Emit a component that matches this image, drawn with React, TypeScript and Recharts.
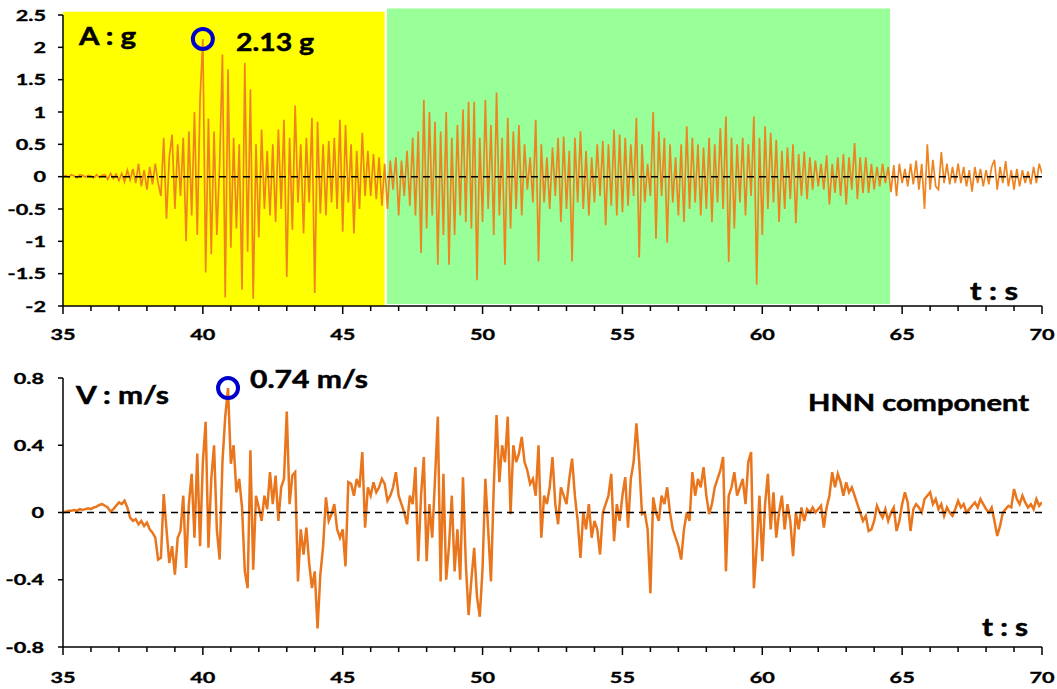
import { LineChart, Line, XAxis, YAxis, ReferenceArea, ReferenceLine, ReferenceDot } from 'recharts'

// sampling grid: 35 s .. 70 s every 0.1 s
const T_START = 35
const T_STEP = 0.1

// acceleration (g), HNN component
const ACC_35_40 = [
  0, 0.02, -0.01, 0.03, 0.01, -0.02, 0.03, 0.02, -0.01, 0.02,
  0.01, -0.02, 0.03, -0.01, 0.02, 0.03, -0.04, 0.05, -0.03, 0.04,
  -0.06, 0.05, -0.08, 0.1, -0.05, 0.12, -0.1, 0.2, -0.15, 0.1,
  -0.2, 0.15, -0.12, 0.2, -0.1, -0.3, 0.6, -0.65, 0.3, 0.65,
  -0.5, 0.5, -0.3, 0.6, -1.0, 0.7, -0.6, 1.0, -0.9, 1.2,
]
const ACC_40_45 = [
  2.13, -1.48, 0.9, -1.2, 0.7, -0.9, 0.2, 1.89, -1.87, 1.66,
  -1.1, 0.6, -0.8, 0.5, -1.75, 1.76, -1.16, 1.35, -1.89, 0.5,
  -0.94, 0.73, -0.5, 0.4, -0.6, 0.5, -0.7, 0.73, -0.5, 0.88,
  -1.55, 0.6, -0.82, 1.1, -0.4, 0.5, -0.88, 0.6, -0.4, 0.91,
  -1.8, 0.85, -0.57, 0.5, -0.6, 0.55, -0.4, 0.6, -0.5, 0.88,
]
const ACC_45_50 = [
  -0.85, 0.8, -0.4, 0.5, -0.88, 0.4, -0.5, 0.68, -0.3, 0.4,
  -0.3, 0.35, -0.35, 0.3, -0.45, 0.2, -0.5, 0.25, -0.2, 0.3,
  -0.6, 0.25, -0.3, 0.4, -0.45, 0.6, -0.6, 0.7, -1.18, 1.19,
  -0.8, 1.0, -0.6, 0.85, -1.36, 0.7, -0.9, 1.0, -1.36, 0.6,
  -0.9, 0.8, -0.6, 1.04, -0.7, 1.16, -0.8, 1.16, -1.6, 0.6,
]
const ACC_50_55 = [
  -0.7, 1.19, -0.5, 0.8, -0.9, 1.3, -0.6, 0.6, -1.36, 0.91,
  -0.8, 0.7, -0.5, 0.8, -0.6, 0.5, -0.2, 0.3, -0.4, 0.88,
  -1.31, 0.5, -0.4, 0.3, -0.5, 0.45, -0.3, 0.6, -0.7, 0.62,
  -0.5, 0.4, -1.31, 0.6, -0.4, 0.7, -0.5, 0.4, -0.6, 0.3,
  -0.4, 0.5, -0.3, 0.55, -0.75, 0.5, -0.45, 0.73, -0.6, 0.65,
]
const ACC_55_60 = [
  -0.55, 0.6, -0.45, 0.5, -0.3, 0.91, -1.25, 0.5, -0.4, 0.2,
  -0.3, 1.0, -0.96, 0.7, -0.3, 0.6, -1.02, 0.5, -0.4, 0.3,
  -0.6, 0.5, -0.7, 0.78, -0.5, 0.6, -0.4, 0.5, -0.6, 0.45,
  -0.5, 0.6, -0.7, 0.5, -0.4, 0.75, -0.5, 0.93, -1.32, 0.6,
  -0.8, 0.5, -0.4, 0.6, -0.6, 0.5, -0.3, 0.93, -1.67, 0.6,
]
const ACC_60_65 = [
  -0.9, 0.78, -0.5, 0.68, -0.4, 0.57, -0.7, 0.4, -0.5, 0.45,
  -0.35, 0.5, -0.72, 0.35, -0.3, 0.39, -0.35, 0.3, -0.2, 0.25,
  -0.15, 0.2, -0.2, 0.33, -0.43, 0.2, -0.25, 0.3, -0.3, 0.35,
  -0.43, 0.3, -0.2, 0.52, -0.35, 0.3, -0.25, 0.3, -0.25, 0.2,
  -0.2, 0.15, -0.15, 0.2, -0.1, 0.15, -0.24, 0.18, -0.3, 0.2,
]
const ACC_65_70 = [
  -0.1, 0.12, -0.15, 0.2, -0.12, 0.25, -0.2, 0.2, -0.5, 0.5,
  -0.2, 0.26, -0.15, -0.2, 0.38, -0.1, 0.2, -0.12, 0.15, -0.1,
  0.2, -0.1, 0.15, -0.15, 0.1, -0.23, 0.15, -0.1, 0.12, -0.15,
  0.1, -0.12, 0.15, 0.26, -0.2, 0.15, -0.1, 0.24, -0.15, 0.1,
  -0.2, 0.12, -0.15, 0.1, -0.1, 0.08, -0.12, 0.15, -0.1, 0.2,
  0.05,
]

// velocity (m/s)
const VEL_35_40 = [
  0, 0.005, 0.01, 0.01, 0.015, 0.01, 0.02, 0.015, 0.02, 0.025,
  0.02, 0.03, 0.035, 0.045, 0.05, 0.04, 0.03, 0.005, 0.02, 0.04,
  0.06, 0.05, 0.07, 0.03, -0.03, -0.05, -0.04, -0.07, -0.05, -0.08,
  -0.06, -0.1, -0.12, -0.15, -0.28, -0.27, 0.11, -0.1, -0.3, -0.2,
  -0.37, -0.15, -0.11, 0.1, -0.33, 0.05, 0.23, -0.15, 0.35, -0.2,
]
const VEL_40_45 = [
  0.3, 0.54, -0.21, 0.2, 0.4, -0.1, -0.28, 0.3, 0.57, 0.74,
  0.29, 0.4, 0.12, 0.2, 0.03, -0.35, -0.45, 0.37, -0.34, 0.1,
  0.03, -0.05, 0.1, 0.02, 0.24, 0.05, 0.22, -0.05, 0.15, 0.2,
  0.6, 0.05, 0.22, 0.24, -0.41, -0.1, -0.25, -0.09, -0.3, -0.45,
  -0.35, -0.69, -0.37, -0.2, 0.09, -0.05, -0.01, 0.05, -0.1, -0.15,
]
const VEL_45_50 = [
  -0.1, -0.32, 0.18, 0.17, 0.1, 0.2, 0.15, 0.36, -0.09, 0.15,
  0.1, 0.18, 0.12, 0.15, 0.2, 0.17, 0.07, 0.1, 0.15, 0.24,
  0.1, 0.05, 0.0, -0.07, 0.1, 0.05, 0.27, -0.29, 0.1, 0.33,
  -0.29, 0.05, -0.15, 0.2, 0.57, -0.41, 0.23, -0.4, -0.2, 0.1,
  -0.35, -0.1, -0.4, 0.21, -0.3, -0.61, -0.4, -0.21, -0.5, -0.62,
]
const VEL_50_55 = [
  -0.33, 0.2, -0.1, -0.41, 0.15, 0.58, 0.18, 0.4, 0.3, 0.57,
  -0.01, 0.4, 0.3, 0.35, 0.45, 0.3, 0.25, 0.17, 0.2, 0.1,
  0.4, -0.15, 0.1, 0.05, 0.15, 0.33, 0.05, -0.07, 0.15, 0.1,
  0.05, 0.2, 0.32, 0.1, -0.05, -0.27, 0.0, -0.1, 0.05, -0.15,
  -0.05, -0.1, -0.25, 0.0, 0.05, 0.1, 0.23, -0.17, 0.05, -0.05,
]
const VEL_55_60 = [
  0.1, 0.21, -0.09, 0.2, 0.3, 0.53, 0.3, -0.01, 0.0, -0.1,
  -0.48, 0.09, 0.0, -0.05, 0.1, 0.05, 0.15, 0.0, -0.1, -0.15,
  -0.2, -0.28, -0.1, 0.0, -0.05, 0.24, 0.1, 0.2, 0.15, 0.27,
  0.1, -0.01, 0.05, 0.15, 0.2, 0.25, 0.33, -0.35, 0.1, 0.15,
  0.24, 0.1, 0.15, 0.2, 0.05, 0.3, 0.36, -0.45, -0.2, 0.1,
]
const VEL_60_65 = [
  -0.29, 0.05, 0.23, -0.1, 0.12, -0.15, 0.0, 0.1, -0.1, 0.05,
  -0.05, -0.26, 0.0, -0.1, 0.03, -0.05, 0.02, 0.0, 0.03, 0.0,
  0.02, 0.04, -0.09, 0.03, 0.1, 0.24, 0.15, 0.23, 0.18, 0.1,
  0.18, 0.12, 0.15, 0.1, 0.05, 0.0, -0.05, -0.02, -0.11, -0.1,
  -0.05, 0.04, 0.0, -0.03, 0.02, -0.05, 0.0, 0.03, -0.11, -0.05,
]
const VEL_65_70 = [
  0.05, 0.12, 0.06, -0.11, 0.02, 0.05, 0.03, 0.0, 0.08, 0.1,
  0.12, 0.05, 0.08, 0.02, 0.05, -0.02, 0.03, 0.0, -0.02, 0.02,
  0.07, 0.03, 0.05, 0.0, 0.02, 0.04, 0.06, 0.03, 0.08, 0.05,
  0.02, 0.0, 0.03, -0.05, -0.14, -0.08, 0.0, 0.02, 0.04, 0.03,
  0.14, 0.08, 0.05, 0.1, 0.06, 0.03, 0.05, 0.02, 0.08, 0.04,
  0.06,
]

const X_TICKS = [35, 36, 37, 38, 39, 40, 41, 42, 43, 44, 45, 46, 47, 48, 49, 50, 51, 52,
  53, 54, 55, 56, 57, 58, 59, 60, 61, 62, 63, 64, 65, 66, 67, 68, 69, 70]
const ACC_TICKS = [-2, -1.5, -1, -0.5, 0, 0.5, 1, 1.5, 2, 2.5]
const VEL_TICKS = [-0.8, -0.4, 0, 0.4, 0.8]

const ACC = [...ACC_35_40, ...ACC_40_45, ...ACC_45_50, ...ACC_50_55, ...ACC_55_60, ...ACC_60_65, ...ACC_65_70]
const VEL = [...VEL_35_40, ...VEL_40_45, ...VEL_45_50, ...VEL_50_55, ...VEL_55_60, ...VEL_60_65, ...VEL_65_70]

const tAt = (i: number) => Math.round((T_START + i * T_STEP) * 10) / 10
const accData = ACC.map((a, i) => ({ t: tAt(i), a }))
const velData = VEL.map((v, i) => ({ t: tAt(i), v }))

const FONT = "Lato, 'Open Sans', sans-serif"
const STRETCH = 1.4

const TickText = ({ x, y, anchor, children }: any) => (
  <text
    transform={`translate(${x},${y}) scale(${STRETCH},1)`}
    textAnchor={anchor}
    fontFamily={FONT}
    fontWeight={700}
    fontSize={15.5}
    fill="#000"
    stroke="#000"
    strokeWidth={0.35}
  >
    {children}
  </text>
)

const makeXTick = (labelDy: number) => (p: any) => {
  const major = p.payload.value % 5 === 0
  return (
    <g>
      <line x1={p.x} x2={p.x} y1={p.y} y2={p.y + (major ? 8 : 5)} stroke="#000" strokeWidth={1.5} />
      {major && <TickText x={p.x} y={p.y + labelDy} anchor="middle">{p.payload.value}</TickText>}
    </g>
  )
}

const makeYTick = (gap: number) => (p: any) => (
  <g>
    <line x1={p.x - 5} x2={p.x} y1={p.y} y2={p.y} stroke="#000" strokeWidth={1.5} />
    <TickText x={p.x - gap} y={p.y + 5.5} anchor="end">{p.payload.value}</TickText>
  </g>
)

const Note = ({ x, y, w, size = 24, children }: any) => (
  <text
    x={x}
    y={y}
    textLength={w}
    lengthAdjust="spacingAndGlyphs"
    fontFamily={FONT}
    fontWeight={700}
    fontSize={size}
    fill="#000"
    stroke="#000"
    strokeWidth={0.5}
  >
    {children}
  </text>
)

const axisLine = { stroke: '#000', strokeWidth: 1.5 }

const App = () => {
  return (
    <div style={{ position: 'absolute', left: 0, top: 0, width: 1057, height: 689, background: '#fff' }}>
      <div style={{ position: 'absolute', left: 0, top: 0 }}>
        <LineChart width={1057} height={345} data={accData} margin={{ top: 15, right: 15, bottom: 9, left: 23 }}>
          <XAxis
            type="number"
            dataKey="t"
            domain={[35, 70]}
            ticks={X_TICKS}
            interval={0}
            height={30}
            axisLine={axisLine}
            tickLine={false}
            tickSize={0}
            tickMargin={0}
            tick={makeXTick(34)}
            allowDataOverflow
          />
          <YAxis
            type="number"
            domain={[-2, 2.5]}
            ticks={ACC_TICKS}
            interval={0}
            width={40}
            axisLine={axisLine}
            tickLine={false}
            tickSize={0}
            tickMargin={0}
            tick={makeYTick(17)}
            allowDataOverflow
          />
          <ReferenceArea x1={35} x2={46.5} y1={-2} y2={2.55} fill="#FFFF00" fillOpacity={1} stroke="none" ifOverflow="visible" />
          <ReferenceArea x1={46.58} x2={64.57} y1={-1.97} y2={2.6} fill="#99FF99" fillOpacity={1} stroke="none" ifOverflow="visible" />
          <Line type="linear" dataKey="a" stroke="#EE8420" strokeWidth={1.7} dot={false} isAnimationActive={false} />
          <ReferenceLine y={0} stroke="#000" strokeWidth={1.5} strokeDasharray="7 5" />
          <ReferenceDot x={40} y={2.13} r={10} fill="none" stroke="#0000CC" strokeWidth={4} ifOverflow="visible" />
        </LineChart>
      </div>
      <div style={{ position: 'absolute', left: 0, top: 345 }}>
        <LineChart width={1057} height={344} data={velData} margin={{ top: 33, right: 15, bottom: 12, left: 23 }}>
          <XAxis
            type="number"
            dataKey="t"
            domain={[35, 70]}
            ticks={X_TICKS}
            interval={0}
            height={30}
            axisLine={axisLine}
            tickLine={false}
            tickSize={0}
            tickMargin={0}
            tick={makeXTick(36)}
            allowDataOverflow
          />
          <YAxis
            type="number"
            domain={[-0.8, 0.8]}
            ticks={VEL_TICKS}
            interval={0}
            width={40}
            axisLine={axisLine}
            tickLine={false}
            tickSize={0}
            tickMargin={0}
            tick={makeYTick(19)}
            allowDataOverflow
          />
          <Line type="linear" dataKey="v" stroke="#E9761C" strokeWidth={2.5} dot={false} isAnimationActive={false} />
          <ReferenceLine y={0} stroke="#000" strokeWidth={1.5} strokeDasharray="7 5" />
          <ReferenceDot x={40.9} y={0.74} r={10} fill="none" stroke="#0000CC" strokeWidth={4} ifOverflow="visible" />
        </LineChart>
      </div>
      <svg width={1057} height={689} style={{ position: 'absolute', left: 0, top: 0, pointerEvents: 'none' }}>
        <Note x={79} y={45} w={57}>A : g</Note>
        <Note x={236} y={51} w={78} size={25}>2.13 g</Note>
        <Note x={970} y={300} w={48}>t : s</Note>
        <Note x={76} y={404} w={93}>V : m/s</Note>
        <Note x={250} y={388} w={118} size={25}>0.74 m/s</Note>
        <Note x={808} y={411} w={221} size={23}>HNN component</Note>
        <Note x={982} y={636} w={46}>t : s</Note>
      </svg>
    </div>
  )
}

export default App
